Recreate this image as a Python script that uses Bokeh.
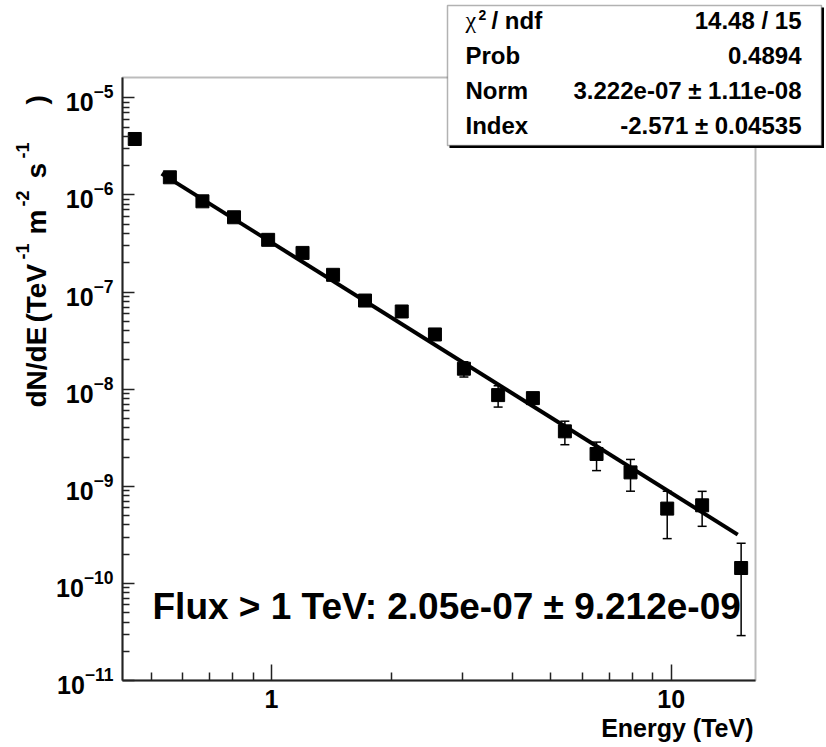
import math
from bokeh.plotting import figure
from bokeh.models import (ColumnDataSource, FixedTicker, LogTickFormatter, Label,
                          BoxAnnotation, Whisker, TeeHead, Range1d)
from bokeh.embed import file_html
from bokeh.resources import INLINE

# ---------------- data ----------------
energy = [0.455, 0.557, 0.672, 0.806, 0.981, 1.196, 1.426, 1.714, 2.118, 2.564,
          3.030, 3.690, 4.508, 5.420, 6.505, 7.911, 9.772, 11.95, 14.96]
flux = [3.77e-6, 1.52e-6, 8.60e-7, 5.89e-7, 3.45e-7, 2.53e-7, 1.505e-7, 8.18e-8,
        6.31e-8, 3.66e-8, 1.624e-8, 8.69e-9, 8.09e-9, 3.68e-9, 2.15e-9, 1.39e-9,
        5.89e-10, 6.37e-10, 1.44e-10]
flux_err = [1.5e-7, 6e-8, 3.5e-8, 2.5e-8, 1.5e-8, 1.2e-8, 8e-9, 5e-9, 4.5e-9, 3e-9,
            2.9e-9, 2.15e-9, 1.0e-9, 1.0e-9, 0.7e-9, 0.5e-9, 0.3e-9, 0.25e-9, 1.15e-10]

fit_energy = [0.531, 14.67]
fit_flux = [1.66e-6, 3.18e-10]

x_lo, x_hi = 0.424, 16.25
y_lo, y_hi = 1e-11, 1.62e-5
x_major = [1, 10]
x_minor = [0.5, 0.6, 0.7, 0.8, 0.9, 2, 3, 4, 5, 6, 7, 8, 9]
y_major = [1e-11, 1e-10, 1e-9, 1e-8, 1e-7, 1e-6, 1e-5]
y_minor = [m * 10.0 ** e for e in range(-11, -5) for m in range(2, 10)]

stats_names = ["Prob", "Norm", "Index"]
stats_values = ["14.48 / 15", "0.4894", "3.222e-07 \u00b1 1.11e-08", "-2.571 \u00b1 0.04535"]
flux_text = "Flux > 1 TeV: 2.05e-07 \u00b1 9.212e-09"
x_title = "Energy (TeV)"

# ---------------- layout ----------------
W, H = 824, 745
FL, FR, FT, FB = 122, 755, 77, 680      # ROOT-style frame, page pixels
FONT = "Liberation Sans"
BASE_K = 0.37                            # label baseline correction (fraction of font size)

ppd_x = (FR - FL) / (math.log10(x_hi) - math.log10(x_lo))
ppd_y = (FB - FT) / (math.log10(y_hi) - math.log10(y_lo))
cx0 = 10 ** (math.log10(x_lo) - FL / ppd_x)
cx1 = 10 ** (math.log10(x_hi) + (W - FR) / ppd_x)
cy0 = 10 ** (math.log10(y_lo) - (H - FB) / ppd_y)
cy1 = 10 ** (math.log10(y_hi) + FT / ppd_y)

p = figure(width=W, height=H, x_axis_type="log", y_axis_type="log",
           x_range=Range1d(cx0, cx1), y_range=Range1d(cy0, cy1),
           output_backend="svg", toolbar_location=None,
           min_border_left=0, min_border_right=0, min_border_top=0, min_border_bottom=0)
p.title.visible = False
p.grid.visible = False
p.outline_line_color = None
p.background_fill_color = "white"
p.border_fill_color = "white"

xa = p.xaxis[0]
xa.ticker = FixedTicker(ticks=x_major, minor_ticks=x_minor)
xa.formatter = LogTickFormatter(min_exponent=2)
xa.fixed_location = y_lo
xa.bounds = (x_lo, x_hi)
ya = p.yaxis[0]
ya.ticker = FixedTicker(ticks=y_major, minor_ticks=y_minor)
ya.formatter = LogTickFormatter()
ya.fixed_location = x_lo
ya.bounds = (y_lo, y_hi)
for ax in (xa, ya):
    ax.axis_line_color = "#222222"
    ax.axis_line_width = 2
    ax.major_tick_line_color = "#222222"
    ax.minor_tick_line_color = "#222222"
    ax.major_tick_line_width = 1.5
    ax.minor_tick_line_width = 1.5
    ax.major_tick_out = 0
    ax.minor_tick_out = 0
    ax.major_label_text_font = FONT
    ax.major_label_text_font_style = "bold"
    ax.major_label_text_font_size = "25px"
    ax.major_label_text_color = "black"
xa.major_tick_in = 16
xa.minor_tick_in = 8
xa.major_label_standoff = 9
ya.major_tick_in = 12
ya.minor_tick_in = 7
ya.major_label_standoff = 9

# frame box
p.add_layout(BoxAnnotation(left=x_lo, right=x_hi, bottom=y_lo, top=y_hi,
                           fill_color=None, fill_alpha=0, line_color="#222222",
                           line_width=2, level="underlay"))

src = ColumnDataSource(dict(
    energy=energy, flux=flux,
    lower=[f - e for f, e in zip(flux, flux_err)],
    upper=[f + e for f, e in zip(flux, flux_err)]))

p.add_layout(Whisker(base="energy", upper="upper", lower="lower", source=src,
                     dimension="height", line_color="black", line_width=1.5,
                     upper_head=TeeHead(size=9, line_color="black", line_width=1.5),
                     lower_head=TeeHead(size=9, line_color="black", line_width=1.5)))
p.line(fit_energy, fit_flux, line_width=4, line_color="black")
p.scatter("energy", "flux", source=src, marker="square", size=13,
          fill_color="black", line_color="black")


def add_text(xr, yr, text, size, align="left", bold=True, font=FONT, angle=0.0):
    # xr, yr: desired baseline anchor in page pixels (from top-left)
    if angle == 0:
        yr = yr - BASE_K * size
    else:
        xr = xr - BASE_K * size
    p.add_layout(Label(x=xr, y=H - yr, x_units="screen", y_units="screen",
                       text=text, text_font=font, text_font_size=f"{size}px",
                       text_font_style="bold" if bold else "normal",
                       text_align=align, text_baseline="alphabetic",
                       angle=angle, text_color="black", level="overlay"))


# stats box with shadow
for (l, r, t, b, fill, line) in [(449, 823.5, 7, 147.5, "black", None),
                                  (447, 821, 5, 145, "white", "black")]:
    p.add_layout(BoxAnnotation(left=l, right=r, top=H - t, bottom=H - b,
                               left_units="screen", right_units="screen",
                               top_units="screen", bottom_units="screen",
                               fill_color=fill, fill_alpha=1, line_color=line,
                               line_width=1.5, level="overlay"))

rows_y = [29, 63.5, 98.5, 133.5]
add_text(465, rows_y[0] - 1, "\u03c7", 24, bold=False, font="Liberation Serif")
add_text(478, rows_y[0] - 9, "2", 14)
add_text(491, rows_y[0], "/ ndf", 24)
for name, yy in zip(stats_names, rows_y[1:]):
    add_text(465, yy, name, 24)
for val, yy in zip(stats_values, rows_y):
    add_text(801, yy, val, 24, align="right")

# flux annotation
add_text(152, 620, flux_text, 37)

# x title
add_text(753, 737, x_title, 25, align="right")

# y title (rotated pieces)
ROT = math.pi / 2
add_text(46, 407, "dN/dE", 28, angle=ROT)
add_text(46, 322, "(TeV", 28, angle=ROT)
add_text(29, 259, "-1", 18, angle=ROT)
add_text(46, 234, "m", 28, angle=ROT)
add_text(29, 206, "-2", 18, angle=ROT)
add_text(46, 178, "s", 28, angle=ROT)
add_text(29, 158, "-1", 18, angle=ROT)
add_text(46, 104, ")", 28, angle=ROT)

open("out.html", "w").write(file_html(p, INLINE))
